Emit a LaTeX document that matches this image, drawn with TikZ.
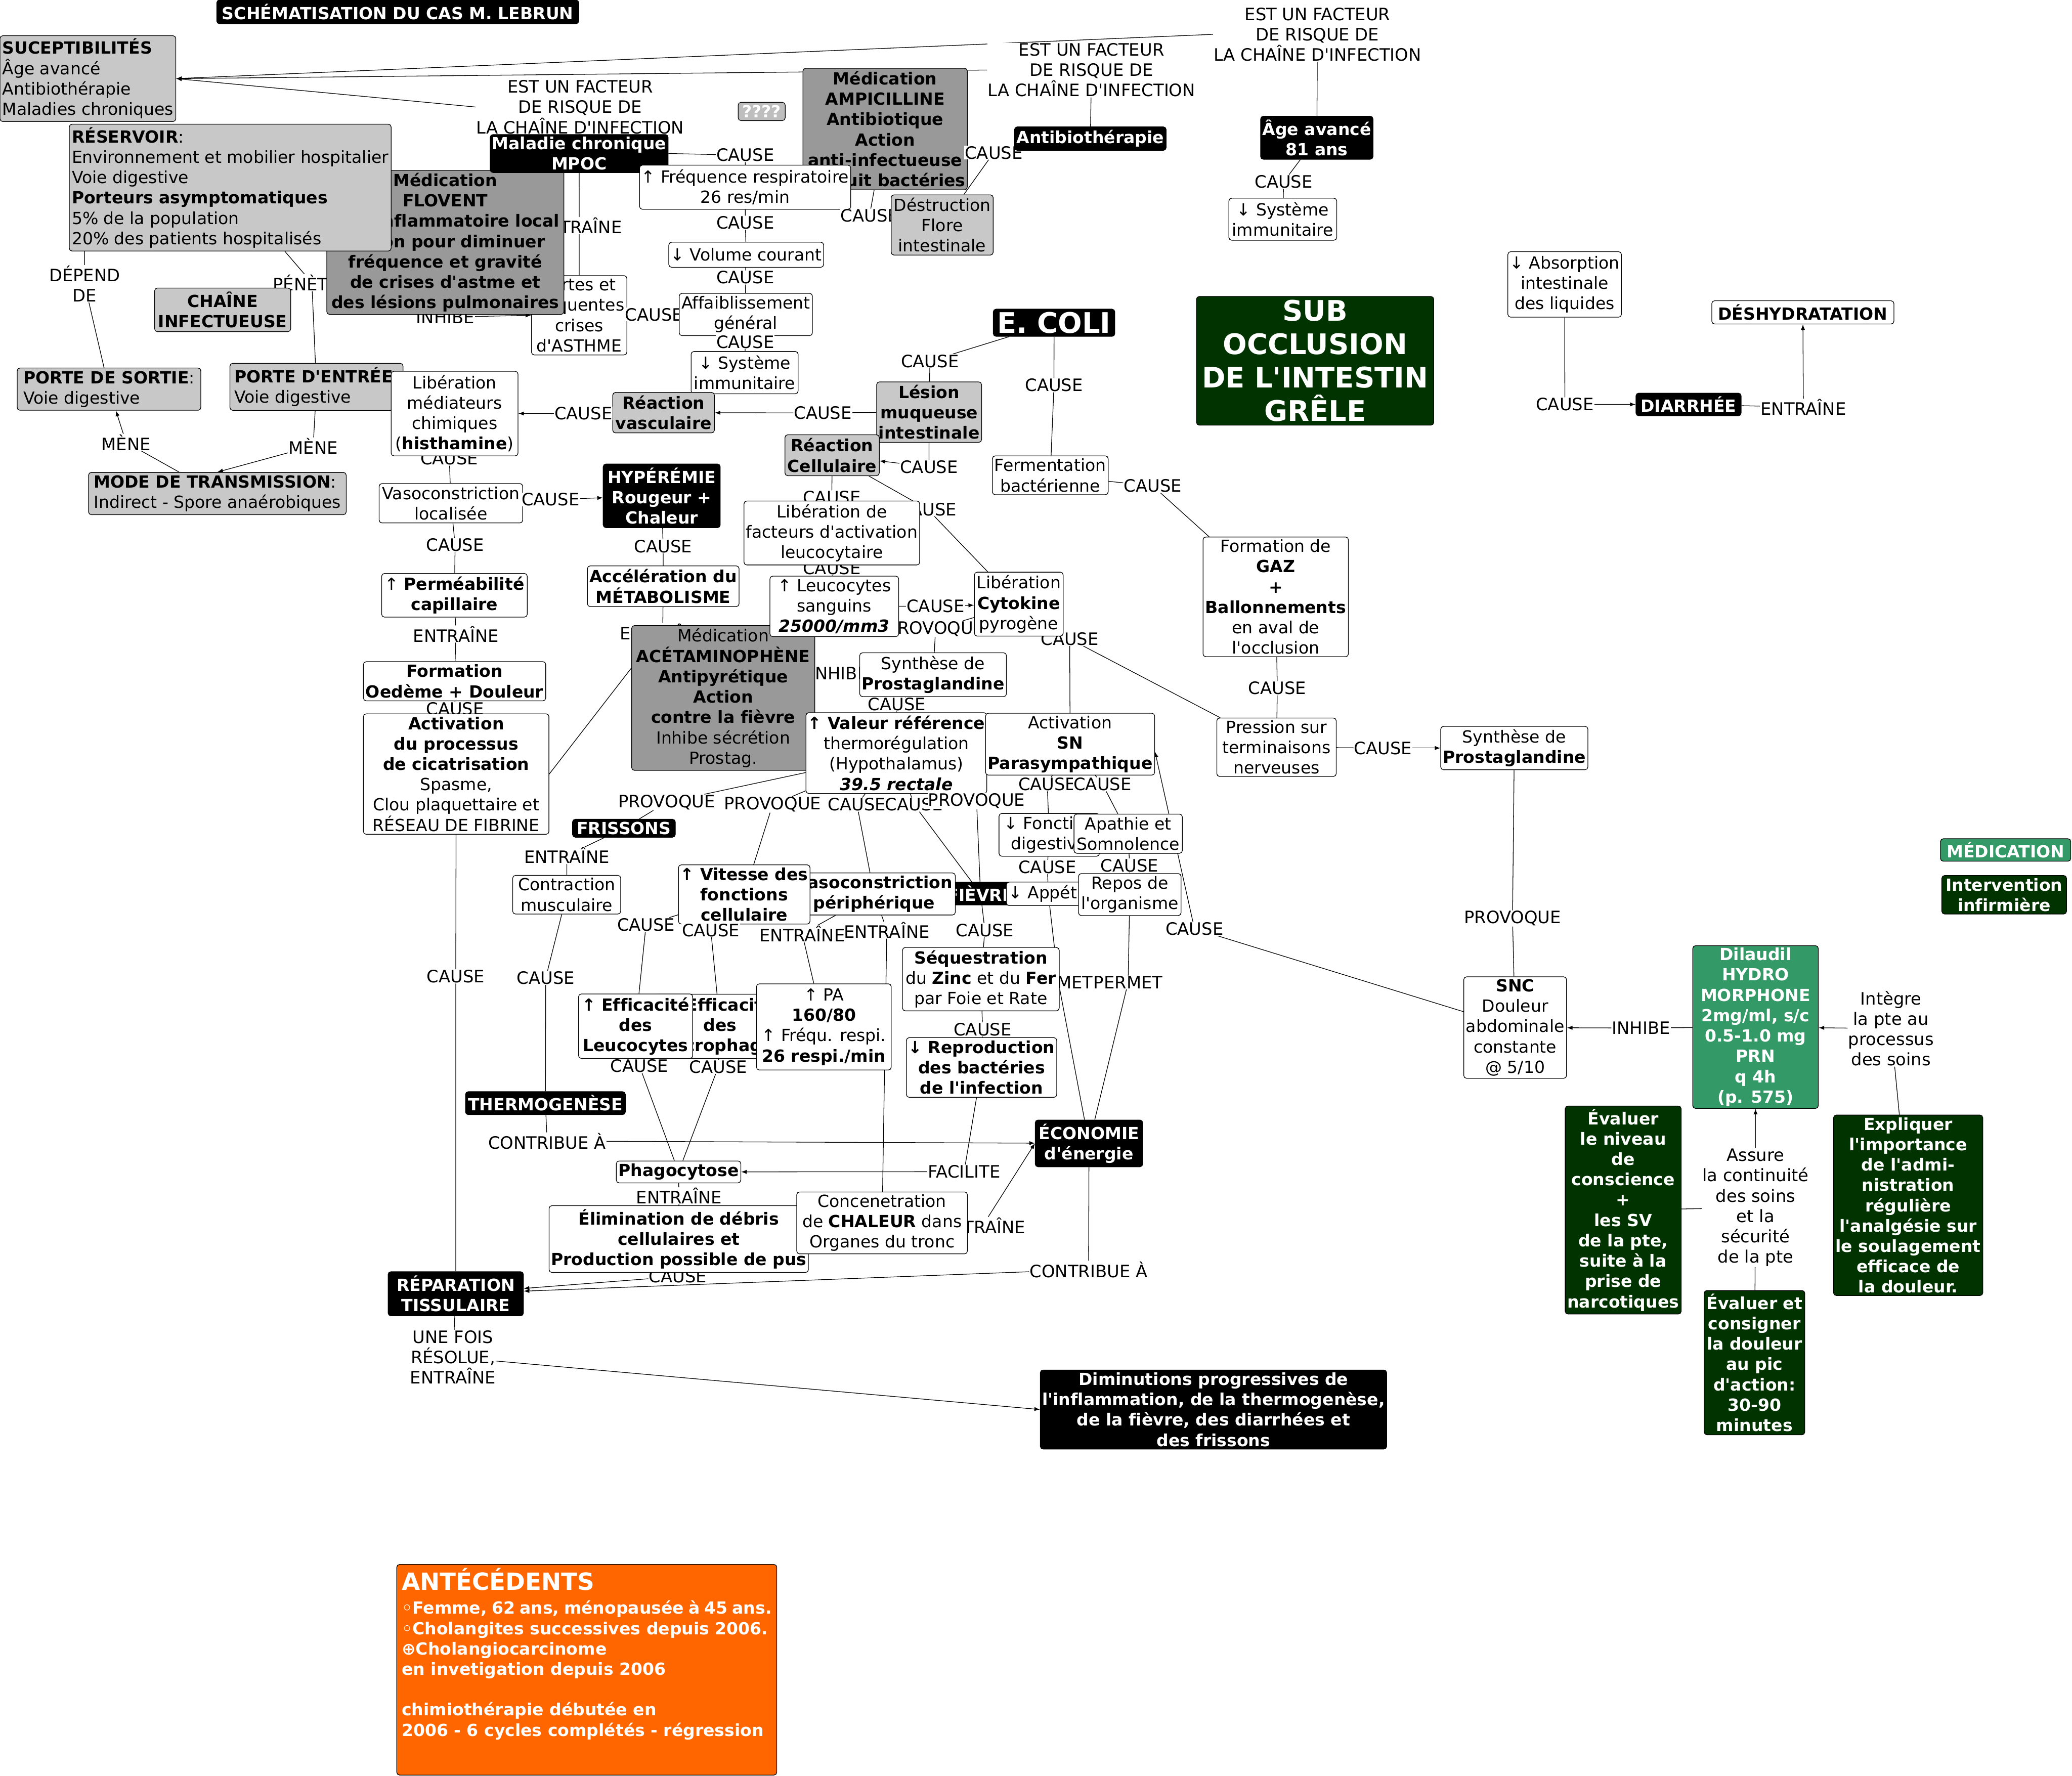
\documentclass[tikz,border=0pt]{standalone}
\usepackage{fontspec}
\setmainfont{DejaVu Sans}[Ligatures={TeXOff,CommonOff}]
\usepackage{tikz}
\usetikzlibrary{arrows.meta}
\pgfdeclarelayer{background}
\pgfdeclarelayer{links}
\pgfsetlayers{background,links,main}
\definecolor{lightgrey}{HTML}{C8C8C8}
\definecolor{midgrey}{HTML}{999999}
\definecolor{qgrey}{HTML}{BEBEBE}
\definecolor{darkgreen}{HTML}{003300}
\definecolor{medgreen}{HTML}{339966}
\definecolor{antorange}{HTML}{FF6600}
\newcommand{\boxfont}{\fontsize{18}{21.9}\selectfont}
\newcommand{\lblfont}{\fontsize{18.4}{21.9}\selectfont}
\newcommand{\greenfont}{\fontsize{18}{21.9}\selectfont\bfseries}
\newcommand{\bigfont}{\fontsize{30.5}{36}\selectfont\bfseries}

\begin{document}
\begin{tikzpicture}[x=0.05cm, y=-0.05cm,
    cbox/.style={draw=black, line width=0.7pt, rounded corners=3pt, inner xsep=2pt, inner ysep=0.5pt, align=center, font=\boxfont},
    wbox/.style={cbox, fill=white},
    gbox/.style={cbox, fill=lightgrey},
    gboxb/.style={cbox, fill=lightgrey, font=\boxfont\bfseries},
    mbox/.style={cbox, fill=midgrey, font=\boxfont\bfseries},
    kbox/.style={cbox, fill=black, text=white, font=\boxfont\bfseries},
    dgbox/.style={cbox, fill=darkgreen, text=white, font=\greenfont},
    mgbox/.style={cbox, fill=medgreen, text=white, font=\greenfont},
    lbl/.style={fill=white, inner sep=0.5pt, align=center, font=\lblfont},
    link/.style={line width=0.7pt},
    arr/.style={line width=0.7pt, -{Latex[length=6pt, width=4.5pt]}},
]
\begin{pgfonlayer}{background}
\fill[white] (0,0) rectangle (1568,1344);
\end{pgfonlayer}
\useasboundingbox (0,0) rectangle (1568,1344);

% chaine infectieuse (top left)
\node[kbox, minimum width=13.7cm, minimum height=0.9cm] (title) at (301,9) {SCHÉMATISATION DU CAS M. LEBRUN};
\node[gbox, align=left, minimum width=6.65cm, minimum height=3.25cm] (sucept) at (66.5,59.5) {\textbf{SUCEPTIBILITÉS}\\Âge avancé\\Antibiothérapie\\Maladies chroniques};
\node[lbl] (lPenetre) at (236,214) {PÉNÈTRE};
\node[wbox, minimum width=3.61cm, minimum height=3cm] (crises) at (438.3,238.6) {Fortes et\\fréquentes\\crises\\d'ASTHME};
\node[lbl] (lMalEntr) at (438.3,170.7) {ENTRAÎNE};
\node[lbl] (lFlovInh) at (337,240) {INHIBE};
\node[lbl] (lEstA) at (439,81) {EST UN FACTEUR\\DE RISQUE DE\\LA CHAÎNE D'INFECTION};
\node[mbox, minimum width=8.97cm, minimum height=5.45cm] (flovent) at (337,183.5) {Médication\\FLOVENT\\Anti-inflammatoire local\\Action pour diminuer\\fréquence et gravité\\de crises d'astme et\\des lésions pulmonaires};
\node[gbox, align=left, minimum width=12.18cm, minimum height=4.8cm] (reservoir) at (174.2,142) {\textbf{RÉSERVOIR}:\\Environnement et mobilier hospitalier\\Voie digestive\\\textbf{Porteurs asymptomatiques}\\5\% de la population\\20\% des patients hospitalisés};
\node[kbox, minimum width=6.73cm, minimum height=1.44cm] (maladie) at (438.25,116.2) {Maladie chronique\\MPOC};
\node[gboxb, minimum width=5.15cm, minimum height=1.65cm] (chaine) at (168.5,234.5) {CHAÎNE\\INFECTUEUSE};
\node[lbl] (lDepend) at (64,214.7) {DÉPEND\\DE};
\node[gbox, align=left, minimum width=6.95cm, minimum height=1.6cm] (sortie) at (82.5,294.5) {\textbf{PORTE DE SORTIE}:\\Voie digestive};
\node[gbox, align=left, minimum width=6.55cm, minimum height=1.78cm] (entree) at (239.5,292.75) {\textbf{PORTE D'ENTRÉE}:\\Voie digestive};
\node[lbl] (lMedCause) at (340,347) {CAUSE};
\node[wbox, minimum width=4.8cm, minimum height=3.2cm] (mediateurs) at (344,313) {Libération\\médiateurs\\chimiques\\(\textbf{histhamine})};
\node[lbl] (lMene1) at (95.4,334.8) {MÈNE};
\node[lbl] (lMene2) at (237,337.5) {MÈNE};
\node[gbox, align=left, minimum width=9.75cm, minimum height=1.6cm] (mode) at (164.5,373.5) {\textbf{MODE DE TRANSMISSION}:\\Indirect - Spore anaérobiques};

% facteurs de risque (top middle)
\node[lbl] (lEstB) at (826,53) {EST UN FACTEUR\\DE RISQUE DE\\LA CHAÎNE D'INFECTION};
\node[lbl] (lEstC) at (997,26) {EST UN FACTEUR\\DE RISQUE DE\\LA CHAÎNE D'INFECTION};
\node[lbl] (lMalCause) at (564,117.4) {CAUSE};
\node[cbox, fill=qgrey, text=white, font=\boxfont\bfseries, minimum width=1.78cm, minimum height=0.69cm] (unknown) at (576.4,84.35) {????};
\node[mbox, minimum width=6.18cm, minimum height=4.6cm] (ampi) at (669.8,97.65) {Médication\\AMPICILLINE\\Antibiotique\\Action\\anti-infectueuse\\Détruit bactéries};
\node[wbox, minimum width=7.93cm, minimum height=1.67cm] (freq) at (563.9,141.7) {↑ Fréquence respiratoire\\26 res/min};
\node[lbl] (lAmpCause) at (658,163.3) {CAUSE};
\node[gbox, minimum width=3.86cm, minimum height=2.28cm] (flore) at (713,170.25) {Déstruction\\Flore\\intestinale};
\node[lbl] (lAntCause) at (752,115.5) {CAUSE};
\node[kbox, minimum width=5.74cm, minimum height=0.89cm] (antibio) at (825.1,104.9) {Antibiothérapie};
\node[kbox, minimum width=4.25cm, minimum height=1.63cm] (age) at (996.5,104.25) {Âge avancé\\81 ans};
\node[lbl] (lAgeCause) at (971.4,137.6) {CAUSE};
\node[wbox, minimum width=4.08cm, minimum height=1.59cm] (immunAge) at (970.75,165.9) {↓ Système\\immunitaire};

% chaine respiratoire
\node[lbl] (lFreqCause) at (564,168.6) {CAUSE};
\node[wbox, minimum width=5.79cm, minimum height=0.95cm] (volume) at (564.7,192.8) {↓ Volume courant};
\node[lbl] (lVolCause) at (564,210) {CAUSE};
\node[lbl] (lCrisesCause) at (495,238) {CAUSE};
\node[wbox, minimum width=5.04cm, minimum height=1.6cm] (affaib) at (564.4,238) {Affaiblissement\\général};
\node[lbl] (lAffCause) at (564,258.7) {CAUSE};
\node[wbox, minimum width=4.05cm, minimum height=1.6cm] (immunMid) at (563.5,282) {↓ Système\\immunitaire};

% e. coli et inflammation
\node[gboxb, minimum width=3.85cm, minimum height=1.53cm] (reacVasc) at (502.15,312.3) {Réaction\\vasculaire};
\node[lbl] (lVascCause) at (441.5,312.9) {CAUSE};
\node[lbl] (lLesCauseV) at (622.7,312.5) {CAUSE};
\node[kbox, font=\bigfont, minimum width=4.6cm, minimum height=1.03cm] (ecoli) at (797.65,244.25) {E. COLI};
\node[lbl] (lEcoliCause1) at (703.7,273.3) {CAUSE};
\node[lbl] (lEcoliCause2) at (797.6,291.4) {CAUSE};
\node[gboxb, minimum width=3.97cm, minimum height=2.29cm] (lesion) at (703.1,311.9) {Lésion\\muqueuse\\intestinale};
\node[lbl] (lLesCauseC) at (703,353.3) {CAUSE};
\node[gboxb, minimum width=3.57cm, minimum height=1.55cm] (reacCell) at (629.7,344.5) {Réaction\\Cellulaire};
\node[cbox, fill=darkgreen, text=white, font=\bigfont, minimum width=8.98cm, minimum height=4.87cm] (subocc) at (995.2,273.05) {SUB\\OCCLUSION\\DE L'INTESTIN\\GRÊLE};
\node[wbox, minimum width=4.38cm, minimum height=1.47cm] (ferment) at (794.8,359.7) {Fermentation\\bactérienne};
\node[lbl] (lFermCause) at (872.3,367.7) {CAUSE};

% left column
\node[wbox, minimum width=5.43cm, minimum height=1.49cm] (vasoLoc) at (341.25,380.85) {Vasoconstriction\\localisée};
\node[lbl] (lVlocCauseH) at (416.65,378) {CAUSE};
\node[kbox, minimum width=4.43cm, minimum height=2.41cm] (hyper) at (500.75,375.25) {HYPÉRÉMIE\\Rougeur +\\Chaleur};
\node[lbl] (lVlocCauseP) at (344.4,412.3) {CAUSE};
\node[wbox, minimum width=5.51cm, minimum height=1.65cm] (permea) at (343.9,450.5) {↑ \textbf{Perméabilité}\\\textbf{capillaire}};
\node[lbl] (lPermEntr) at (345,479.8) {ENTRAÎNE};
\node[wbox, font=\boxfont\bfseries, minimum width=6.9cm, minimum height=1.48cm] (oedeme) at (344,515.55) {Formation\\Oedème + Douleur};
\node[lbl] (lOedCause) at (344.4,536.5) {CAUSE};
\node[wbox, minimum width=7.02cm, minimum height=4.56cm] (cicatr) at (345.2,585.8) {\textbf{Activation}\\\textbf{du processus}\\\textbf{de cicatrisation}\\Spasme,\\Clou plaquettaire et\\RÉSEAU DE FIBRINE};
\node[lbl] (lCicaCause) at (344.9,738.9) {CAUSE};

% centre
\node[lbl] (lHypCause) at (501.8,413.4) {CAUSE};
\node[wbox, font=\boxfont\bfseries, minimum width=5.74cm, minimum height=1.54cm] (metab) at (501.9,443.65) {Accélération du\\MÉTABOLISME};
\node[lbl] (lAccEntr) at (501.5,478) {ENTRAÎNE};
\node[lbl] (lCellCause1) at (629.5,376.5) {CAUSE};
\node[lbl] (lCellCause2) at (702,385.4) {CAUSE};
\node[lbl] (lFactCause) at (629.5,430) {CAUSE};
\node[wbox, minimum width=6.65cm, minimum height=2.42cm] (facteurs) at (629.5,403.35) {Libération de\\facteurs d'activation\\leucocytaire};
\node[lbl] (lCytProv) at (708,476) {PROVOQUE};
\node[lbl] (lCytCause) at (809.5,483.5) {CAUSE};
\node[lbl] (lAcetInh) at (635,509.7) {INHIBE};
\node[mbox, minimum width=6.93cm, minimum height=5.48cm] (acet) at (547.3,528.2) {{\mdseries Médication}\\ACÉTAMINOPHÈNE\\Antipyrétique\\Action\\contre la fièvre\\{\mdseries Inhibe sécrétion}\\{\mdseries Prostag.}};
\node[wbox, minimum width=4.87cm, minimum height=2.29cm] (leuco) at (631.35,458.9) {↑ Leucocytes\\sanguins\\\textbf{\textit{25000/mm3}}};
\node[lbl] (lLeucCause) at (708,458.7) {CAUSE};
\node[wbox, minimum width=3.36cm, minimum height=2.42cm] (cytokine) at (770.95,457.2) {Libération\\\textbf{Cytokine}\\pyrogène};
\node[wbox, minimum width=5.54cm, minimum height=1.66cm] (synthMid) at (706.1,510.6) {Synthèse de\\\textbf{Prostaglandine}};
\node[lbl] (lSynCause) at (678.6,533) {CAUSE};
\node[wbox, minimum width=6.7cm, minimum height=3.06cm] (valeur) at (678.35,569.95) {\textbf{↑ Valeur référence}\\thermorégulation\\(Hypothalamus)\\\textbf{\textit{39.5 rectale}}};
\node[wbox, minimum width=6.4cm, minimum height=2.34cm] (actSN) at (809.8,563.2) {Activation\\\textbf{SN}\\\textbf{Parasympathique}};

% occlusion et douleur
\node[wbox, minimum width=5.5cm, minimum height=4.53cm] (gaz) at (965.4,451.7) {Formation de\\\textbf{GAZ}\\\textbf{+}\\\textbf{Ballonnements}\\en aval de\\l'occlusion};
\node[lbl] (lGazCause) at (966.6,520.8) {CAUSE};
\node[wbox, minimum width=4.52cm, minimum height=2.21cm] (pression) at (966,565.5) {Pression sur\\terminaisons\\nerveuses};
\node[lbl] (lPresCause) at (1046.6,566.1) {CAUSE};
\node[wbox, minimum width=5.57cm, minimum height=1.64cm] (synthRight) at (1145.95,566.1) {Synthèse de\\\textbf{Prostaglandine}};
\node[lbl] (lSynProv) at (1144.6,695) {PROVOQUE};
\node[wbox, minimum width=3.89cm, minimum height=3.84cm] (snc) at (1146.6,777.65) {\textbf{SNC}\\Douleur\\abdominale\\constante\\@ 5/10};
\node[lbl] (lSNCCause) at (903.9,702.8) {CAUSE};

% effets de la fievre
\node[lbl] (lValProv1) at (504.5,607.2) {PROVOQUE};
\node[lbl] (lValProv2) at (584.7,608.9) {PROVOQUE};
\node[lbl] (lValCause1) at (648.5,608.9) {CAUSE};
\node[lbl] (lValCause2) at (691.7,608.9) {CAUSE};
\node[lbl] (lValProv3) at (739,606.2) {PROVOQUE};
\node[lbl] (lSNCause1) at (792.5,593.5) {CAUSE};
\node[lbl] (lSNCause2) at (834.3,593.5) {CAUSE};
\node[kbox, minimum width=3.89cm, minimum height=0.68cm] (frissons) at (472.15,626.8) {FRISSONS};
\node[lbl] (lFrisEntr) at (429,647.4) {ENTRAÎNE};
\node[wbox, minimum width=4.09cm, minimum height=1.46cm] (contraction) at (428.85,677.1) {Contraction\\musculaire};
\node[lbl] (lContCause) at (413,740) {CAUSE};
\node[kbox, minimum width=2.6cm, minimum height=0.86cm] (fievre) at (742,676.2) {FIÈVRE};
\node[wbox, font=\boxfont\bfseries, minimum width=6.15cm, minimum height=1.59cm] (vasoPeri) at (661.45,676.55) {Vasoconstriction\\périphérique};
\node[wbox, font=\boxfont\bfseries, minimum width=4.84cm, minimum height=2.24cm] (vitesse) at (563.2,676.9) {↑ Vitesse des\\fonctions\\cellulaire};
\node[wbox, minimum width=3.8cm, minimum height=1.62cm] (digest) at (794,631.8) {↓ Fonction\\digestive};
\node[wbox, minimum width=4.1cm, minimum height=1.48cm] (apathie) at (853.75,630.95) {Apathie et\\Somnolence};
\node[lbl] (lDigCause) at (792.6,656.1) {CAUSE};
\node[lbl] (lApaCause) at (854.8,655) {CAUSE};
\node[wbox, minimum width=3.17cm, minimum height=0.89cm] (appetit) at (793.3,676.45) {↓ Appétit};
\node[wbox, minimum width=3.88cm, minimum height=1.59cm] (repos) at (854.95,677) {Repos de\\l'organisme};
\node[lbl] (lVitCause1) at (488.9,699.8) {CAUSE};
\node[lbl] (lVitCause2) at (537.9,703.9) {CAUSE};
\node[lbl] (lVasEntr1) at (607.1,706.7) {ENTRAÎNE};
\node[lbl] (lVasEntr2) at (671.1,703.9) {ENTRAÎNE};
\node[lbl] (lFievCause) at (745.3,703.9) {CAUSE};
\node[lbl] (lAppPermet) at (801,743.5) {PERMET};
\node[wbox, minimum width=5.93cm, minimum height=2.4cm] (sequest) at (742.25,741) {\textbf{Séquestration}\\du \textbf{Zinc} et du \textbf{Fer}\\par Foie et Rate};
\node[lbl] (lReposPermet) at (853.7,743.5) {PERMET};
\node[lbl] (lSeqCause) at (743.6,779) {CAUSE};
\node[wbox, font=\boxfont\bfseries, minimum width=5.55cm, minimum height=2.26cm] (reprod) at (742.8,807.85) {↓ Reproduction\\des bactéries\\de l'infection};
\node[wbox, font=\boxfont\bfseries, minimum width=4.5cm, minimum height=2.43cm] (effMacro) at (545,776.75) {↑ Efficacité\\des\\Macrophages};
\node[wbox, font=\boxfont\bfseries, minimum width=4.32cm, minimum height=2.44cm] (effLeuco) at (481,776.6) {↑ Efficacité\\des\\Leucocytes};
\node[wbox, minimum width=5.1cm, minimum height=3.26cm] (pa) at (623.45,777.15) {↑ PA\\\textbf{160/80}\\↑ Fréqu. respi.\\\textbf{26 respi./min}};
\node[lbl] (lLeuCause) at (483.9,806.7) {CAUSE};
\node[lbl] (lMacCause) at (543.6,807.4) {CAUSE};

% reparation
\node[kbox, minimum width=6.05cm, minimum height=0.87cm] (thermo) at (412.75,834.85) {THERMOGENÈSE};
\node[lbl] (lThermContr) at (414,863.5) {CONTRIBUE À};
\node[kbox, minimum width=4.07cm, minimum height=1.77cm] (economie) at (824.1,865.3) {ÉCONOMIE\\d'énergie};
\node[lbl] (lRepFacil) at (729.6,886.7) {FACILITE};
\node[wbox, font=\boxfont\bfseries, minimum width=4.71cm, minimum height=0.83cm] (phago) at (513.5,886.9) {Phagocytose};
\node[lbl] (lPhagEntr) at (513.8,905) {ENTRAÎNE};
\node[lbl] (lElimCause) at (513,966) {CAUSE};
\node[wbox, font=\boxfont\bfseries, minimum width=9.78cm, minimum height=2.53cm] (elim) at (513.65,937.7) {Élimination de débris\\cellulaires et\\Production possible de pus};
\node[lbl] (lConcEntr) at (743.7,927.4) {ENTRAÎNE};
\node[wbox, minimum width=6.46cm, minimum height=2.34cm] (chaleur) at (667.5,925.45) {Concenetration\\de \textbf{CHALEUR} dans\\Organes du tronc};
\node[lbl] (lEcoContr) at (823.8,960.7) {CONTRIBUE À};
\node[kbox, minimum width=5.12cm, minimum height=1.67cm] (repar) at (344.9,979.1) {RÉPARATION\\TISSULAIRE};
\node[lbl] (lRepUne) at (342.8,1027.1) {UNE FOIS\\RÉSOLUE,\\ENTRAÎNE};
\node[kbox, minimum width=13.06cm, minimum height=2.99cm] (dimin) at (918.3,1066.7) {Diminutions progressives de\\l'inflammation, de la thermogenèse,\\de la fièvre, des diarrhées et\\des frissons};

% diarrhee
\node[wbox, minimum width=4.2cm, minimum height=2.48cm] (absorp) at (1184.05,215.25) {↓ Absorption\\intestinale\\des liquides};
\node[lbl] (lAbsCause) at (1184.2,306) {CAUSE};
\node[kbox, minimum width=3.98cm, minimum height=0.86cm] (diarrhee) at (1277.8,306.1) {DIARRHÉE};
\node[lbl] (lDiaEntr) at (1364.7,308.1) {ENTRAÎNE};
\node[wbox, font=\boxfont\bfseries, minimum width=6.89cm, minimum height=0.88cm] (deshyd) at (1364.3,236.4) {DÉSHYDRATATION};

% medication et interventions
\node[mgbox, minimum width=4.93cm, minimum height=0.85cm] (legMed) at (1517.75,643.25) {MÉDICATION};
\node[dgbox, minimum width=4.72cm, minimum height=1.46cm] (legInf) at (1516.65,677.15) {Intervention\\infirmière};
\node[mgbox, minimum width=4.75cm, minimum height=6.16cm] (dilaudil) at (1328.5,777.25) {Dilaudil\\HYDRO\\MORPHONE\\2mg/ml, s/c\\0.5-1.0 mg\\PRN\\q 4h\\(p. 575)};
\node[lbl] (lDilInh) at (1241.9,778) {INHIBE};
\node[lbl] (lInteg) at (1431,778.4) {Intègre\\la pte au\\processus\\des soins};
\node[dgbox, minimum width=5.65cm, minimum height=6.83cm] (expliq) at (1444,912.15) {Expliquer\\l'importance\\de l'admi-\\nistration\\régulière\\l'analgésie sur\\le soulagement\\efficace de\\la douleur.};
\node[dgbox, minimum width=4.39cm, minimum height=7.87cm] (evalNiv) at (1228.35,915.75) {Évaluer\\le niveau\\de\\conscience\\+\\les SV\\de la pte,\\suite à la\\prise de\\narcotiques};
\node[lbl] (lAssure) at (1328.5,913.9) {Assure\\la continuité\\des soins\\et la\\sécurité\\de la pte};
\node[dgbox, minimum width=3.81cm, minimum height=5.46cm] (evalCons) at (1327.7,1031.2) {Évaluer et\\consigner\\la douleur\\au pic\\d'action:\\30-90\\minutes};

% antecedents
\node[cbox, fill=antorange, text=white, font=\boxfont\bfseries, align=left, anchor=north west, inner xsep=2.5pt, inner ysep=2pt, minimum width=14.38cm, minimum height=7.97cm] (antecedents) at (300,1183.7) {\parbox[t][7.7cm][t]{14cm}{{\fontsize{25.5}{30}\selectfont ANTÉCÉDENTS}\\[4pt]
◦Femme, 62 ans, ménopausée à 45 ans.\\
◦Cholangites successives depuis 2006.\\
⊕Cholangiocarcinome\\
en invetigation depuis 2006\\
\mbox{}\\
chimiothérapie débutée en\\
2006 - 6 cycles complétés - régression}};

\begin{pgfonlayer}{links}
% risk factors
\draw[arr] (lEstA.west) -- (sucept.east);
\draw[arr] (lEstB.west) -- (sucept.east);
\draw[arr] (lEstC.west) -- (sucept.east);
\draw[link] (maladie) -- (lEstA);
\draw[link] (antibio) -- (lEstB);
\draw[link] (age) -- (lEstC);
\draw[link] (age) -- (lAgeCause) -- (immunAge);
\draw[link] (antibio) -- (lAntCause) -- (flore);
\draw[link] (ampi) -- (lAmpCause) -- (flore);
\draw[link] (maladie.east) -- (lMalCause) -- (freq);
\draw[link] (maladie) -- (lMalEntr) -- (crises);
\draw[link] (flovent) -- (lFlovInh);
\draw[arr] (lFlovInh) -- (crises.west);
\draw[link] (crises) -- (lCrisesCause) -- (affaib);
\draw[link] (freq) -- (lFreqCause) -- (volume) -- (lVolCause) -- (affaib) -- (lAffCause) -- (immunMid);
% chaine infectieuse
\draw[link] (lDepend.north |- reservoir.south) -- (lDepend) -- (sortie);
\draw[link] (reservoir) -- (lPenetre) -- (entree);
\draw[link] (entree) -- (lMene2);
\draw[arr] (lMene2) -- (mode.north);
\draw[link] (mode) -- (lMene1);
\draw[arr] (lMene1) -- (sortie);
% inflammation
\draw[link] (ecoli) -- (lEcoliCause1) -- (lesion);
\draw[link] (ecoli) -- (lEcoliCause2) -- (ferment);
\draw[link] (lesion) -- (lLesCauseV);
\draw[arr] (lLesCauseV) -- (reacVasc);
\draw[link] (reacVasc) -- (lVascCause);
\draw[arr] (lVascCause) -- (mediateurs);
\draw[link] (lesion) -- (lLesCauseC);
\draw[arr] (lLesCauseC) -- (reacCell);
\draw[link] (reacCell) -- (lCellCause1) -- (facteurs) -- (lFactCause) -- (leuco);
\draw[link] (reacCell) -- (lCellCause2) -- (cytokine);
\draw[link] (leuco) -- (lLeucCause);
\draw[arr] (lLeucCause) -- (cytokine);
\draw[link] (cytokine) -- (lCytProv) -- (synthMid);
\draw[link] (acet) -- (lAcetInh) -- (synthMid);
\draw[link] (acet.162) -- (cicatr.east);
\draw[link] (synthMid) -- (lSynCause) -- (valeur);
\draw[link] (mediateurs) -- (lMedCause) -- (vasoLoc);
\draw[link] (vasoLoc) -- (lVlocCauseH);
\draw[arr] (lVlocCauseH) -- (hyper);
\draw[link] (vasoLoc) -- (lVlocCauseP) -- (permea) -- (lPermEntr) -- (oedeme) -- (lOedCause) -- (cicatr);
\draw[link] (cicatr) -- (lCicaCause) -- (repar);
\draw[link] (hyper) -- (lHypCause) -- (metab) -- (lAccEntr);
% fievre
\draw[link] (valeur) -- (lValProv1) -- (frissons);
\draw[link] (valeur) -- (lValProv2) -- (vitesse);
\draw[link] (valeur) -- (lValCause1) -- (vasoPeri);
\draw[link] (valeur) -- (lValCause2) -- (fievre);
\draw[link] (lValProv3.north |- valeur.south) -- (lValProv3) -- (fievre);
\draw[link] (cytokine) -- (lCytCause) -- (actSN);
\draw[link] (lCytCause) -- (pression);
\draw[link] (actSN) -- (lSNCause1) -- (digest);
\draw[link] (actSN) -- (lSNCause2) -- (apathie);
\draw[link] (digest) -- (lDigCause) -- (appetit);
\draw[link] (apathie) -- (lApaCause) -- (repos);
\draw[link] (appetit) -- (lAppPermet) -- (economie);
\draw[link] (repos) -- (lReposPermet) -- (economie);
\draw[link] (frissons) -- (lFrisEntr) -- (contraction) -- (lContCause) -- (thermo) -- (lThermContr);
\draw[arr] (lThermContr) -- (economie);
\draw[link] (vitesse) -- (lVitCause1) -- (effLeuco);
\draw[link] (vitesse) -- (lVitCause2) -- (effMacro);
\draw[link] (vasoPeri) -- (lVasEntr1) -- (pa);
\draw[link] (vasoPeri) -- (lVasEntr2) -- (chaleur);
\draw[link] (fievre) -- (lFievCause) -- (sequest) -- (lSeqCause) -- (reprod) -- (lRepFacil);
\draw[arr] (lRepFacil) -- (phago);
\draw[link] (effLeuco) -- (lLeuCause) -- (phago);
\draw[link] (effMacro) -- (lMacCause) -- (phago);
\draw[link] (phago) -- (lPhagEntr) -- (elim) -- (lElimCause);
\draw[arr] (lElimCause) -- (repar);
\draw[link] (chaleur) -- (lConcEntr);
\draw[arr] (lConcEntr) -- (economie.west);
\draw[link] (economie) -- (lEcoContr);
\draw[arr] (lEcoContr) -- (repar);
\draw[link] (repar) -- (lRepUne);
\draw[arr] (lRepUne) -- (dimin.west);
% occlusion
\draw[link] (ferment) -- (lFermCause) -- (gaz) -- (lGazCause) -- (pression) -- (lPresCause);
\draw[arr] (lPresCause) -- (synthRight);
\draw[link] (synthRight) -- (lSynProv) -- (snc);
\draw[link] (snc) -- (lSNCCause);
\draw[arr] (lSNCCause) -- (actSN.-5);
\draw[link] (absorp) -- (lAbsCause);
\draw[arr] (lAbsCause) -- (diarrhee);
\draw[link] (diarrhee) -- (lDiaEntr);
\draw[arr] (lDiaEntr) -- (deshyd);
% soins
\draw[link] (dilaudil) -- (lDilInh);
\draw[arr] (lDilInh) -- (snc);
\draw[link] (expliq) -- (lInteg);
\draw[arr] (lInteg) -- (dilaudil);
\draw[link] (evalCons) -- (lAssure);
\draw[arr] (lAssure) -- (dilaudil);
\draw[link] (evalNiv) -- (lAssure);
\end{pgfonlayer}
\end{tikzpicture}
\end{document}
